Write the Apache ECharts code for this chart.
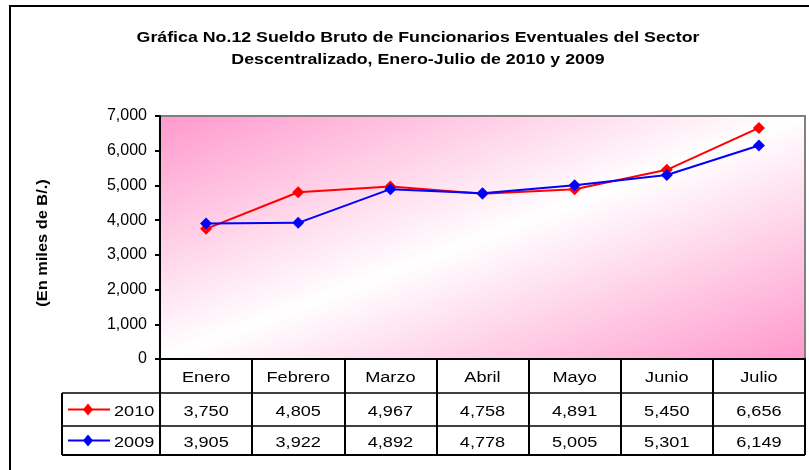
<!DOCTYPE html>
<html>
<head>
<meta charset="utf-8">
<title>Sueldo Bruto de Funcionarios Eventuales</title>
<script src="https://cdn.jsdelivr.net/npm/echarts@6/dist/echarts.min.js"></script>
<style>
  html, body { margin: 0; padding: 0; background: #fff; }
  #chart_1 { width: 809px; height: 470px; }
</style>
</head>
<body>
<div id="chart_1"></div>
<script>
// datos de la grafica
var meses = ['Enero', 'Febrero', 'Marzo', 'Abril', 'Mayo', 'Junio', 'Julio'];
var anios = ['2010', '2009'];
var datos2010 = [3750, 4805, 4967, 4758, 4891, 5450, 6656];
var datos2009 = [3905, 3922, 4892, 4778, 5005, 5301, 6149];
var yTicks = [0, 1000, 2000, 3000, 4000, 5000, 6000, 7000];

var titulo1 = 'Gráfica No.12 Sueldo Bruto de Funcionarios Eventuales del Sector';
var titulo2 = 'Descentralizado, Enero-Julio de 2010 y 2009';
var nombreEjeY = '(En miles de B/.)';

var colores = ['#ff0000', '#0000ff'];
var fuente = '"Liberation Sans", Arial, sans-serif';
var estirar = 1.17; // el texto original sale ensanchado

// area del grafico (pixeles)
var W = 809, H = 470;
var gLeft = 160, gTop = 116, gRight = 805, gBottom = 359;
// filas de la tabla
var filaY = [gBottom, 393, 426, 455];
var tablaLeft = 62;

function fmt(v) {
	return v.toString().replace(/\B(?=(\d{3})+(?!\d))/g, ',');
}

// degradado diagonal rosa-blanco-rosa (blanco sobre la diagonal inferior izq. -> superior der.)
function fondoDegradado() {
	var cx = (gLeft + gRight) / 2, cy = (gTop + gBottom) / 2;
	var w = gRight - gLeft, h = gBottom - gTop;
	var len = Math.sqrt(w * w + h * h);
	var nx = h / len, ny = w / len;
	var d = (w / 2) * nx + (h / 2) * ny;
	return new echarts.graphic.LinearGradient(
		cx - nx * d, cy - ny * d, cx + nx * d, cy + ny * d,
		[{ offset: 0, color: '#ff99cc' }, { offset: 0.5, color: '#ffffff' }, { offset: 1, color: '#ff99cc' }],
		true
	);
}

function texto(txt, x, y, size, bold, align, rot) {
	return {
		type: 'text',
		x: x,
		y: y,
		rotation: rot || 0,
		scaleX: estirar,
		style: {
			text: txt,
			font: (bold ? 'bold ' : '') + size + 'px ' + fuente,
			fill: '#000',
			textAlign: align || 'center',
			textVerticalAlign: 'middle'
		},
		z: 100
	};
}

var myChart = echarts.init(document.getElementById('chart_1'));

var option = {
	animation: false,
	backgroundColor: '#ffffff',
	grid: {
		left: gLeft,
		top: gTop,
		right: W - gRight,
		bottom: H - gBottom,
		show: true,
		backgroundColor: fondoDegradado(),
		borderColor: '#808080',
		borderWidth: 2
	},
	xAxis: {
		type: 'category',
		data: meses,
		boundaryGap: true,
		axisLine: { lineStyle: { color: '#000', width: 2 } },
		axisTick: {
			show: true,
			alignWithLabel: false,
			length: filaY[3] - gBottom,
			lineStyle: { color: '#000', width: 2 }
		},
		axisLabel: { show: false }
	},
	yAxis: {
		type: 'value',
		min: yTicks[0],
		max: yTicks[yTicks.length - 1],
		interval: 1000,
		axisLine: { show: true, lineStyle: { color: '#000', width: 2 } },
		axisTick: { show: true, length: 5, lineStyle: { color: '#000', width: 2 } },
		axisLabel: {
			margin: 13,
			fontFamily: fuente,
			fontSize: 16,
			color: '#000',
			formatter: function (v) { return fmt(v); }
		},
		splitLine: { show: false }
	},
	series: [{
		name: anios[0],
		type: 'line',
		data: datos2010,
		symbol: 'diamond',
		symbolSize: 12,
		color: colores[0],
		lineStyle: { width: 2 },
		z: 3
	}, {
		name: anios[1],
		type: 'line',
		data: datos2009,
		symbol: 'diamond',
		symbolSize: 12,
		color: colores[1],
		lineStyle: { width: 2 },
		z: 4
	}]
};

myChart.setOption(option);

var graficos = [];
var filas = [datos2010, datos2009];

// titulo y nombre del eje
graficos.push(texto(titulo1, 418, 38, 15.2, true));
graficos.push(texto(titulo2, 418, 60, 15.2, true));
graficos.push(texto(nombreEjeY, 43, 243, 14, true, 'center', Math.PI / 2));

// borde exterior
graficos.push({
	type: 'rect',
	shape: { x: 10, y: 6, width: W + 20, height: H + 20 },
	style: { fill: 'none', stroke: '#000', lineWidth: 2 },
	z: 100
});

// lineas horizontales de la tabla
for (var r = 1; r < filaY.length; r++) {
	graficos.push({
		type: 'line',
		shape: { x1: tablaLeft, y1: filaY[r], x2: gRight, y2: filaY[r] },
		style: { stroke: '#000', lineWidth: r == filaY.length - 1 ? 2 : 1.5 },
		z: 100
	});
}
// borde izquierdo de la columna de leyenda
graficos.push({
	type: 'line',
	shape: { x1: tablaLeft, y1: filaY[1], x2: tablaLeft, y2: filaY[3] },
	style: { stroke: '#000', lineWidth: 2 },
	z: 100
});

// encabezado con los meses
for (var i = 0; i < meses.length; i++) {
	var px = myChart.convertToPixel({ xAxisIndex: 0 }, i);
	graficos.push(texto(meses[i], px, (filaY[0] + filaY[1]) / 2 + 2, 15.5, false));
}

for (var s = 0; s < filas.length; s++) {
	var yc = (filaY[s + 1] + filaY[s + 2]) / 2;
	// clave de leyenda
	graficos.push({
		type: 'line',
		shape: { x1: 68, y1: yc, x2: 110, y2: yc },
		style: { stroke: colores[s], lineWidth: 2 },
		z: 100
	});
	graficos.push({
		type: 'polygon',
		shape: { points: [[88, yc - 6], [93, yc], [88, yc + 6], [83, yc]] },
		style: { fill: colores[s] },
		z: 100
	});
	graficos.push(texto(anios[s], 114, yc + 2, 15.5, false, 'left'));
	// valores
	for (var j = 0; j < meses.length; j++) {
		var vx = myChart.convertToPixel({ xAxisIndex: 0 }, j);
		graficos.push(texto(fmt(filas[s][j]), vx, yc + 2, 15.5, false));
	}
}

myChart.setOption({ graphic: graficos });
</script>
</body>
</html>
